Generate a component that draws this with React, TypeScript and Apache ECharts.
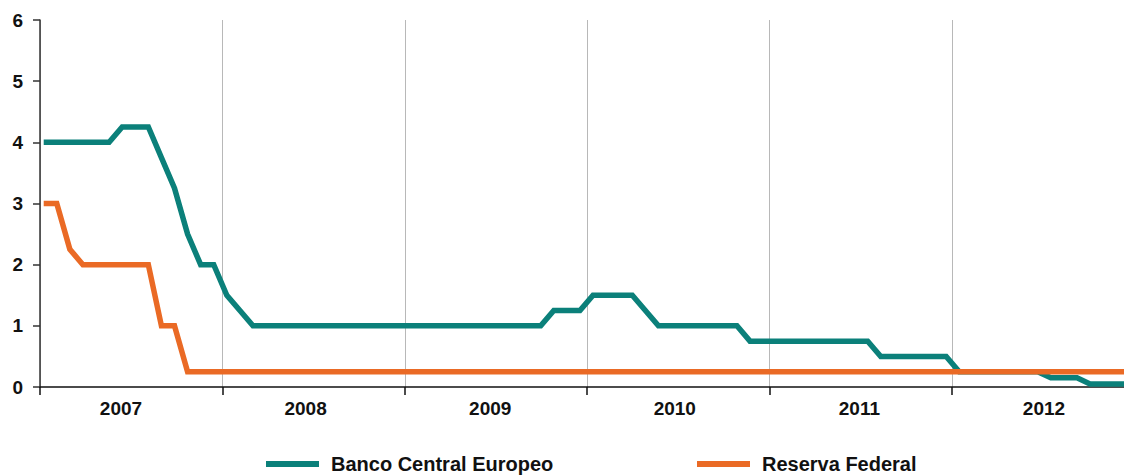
import React, { useEffect, useRef } from "react";
import * as echarts from "echarts";

// Year labels on the x axis
const years = ["2007", "2008", "2009", "2010", "2011", "2012"];

// Monthly categories for the data (84 months)
const startYear = 2008;
const startMonth = 1; // February (0-based)
const months: string[] = [];
for (let i = 0; i < 84; i++) {
  const m = (startMonth + i) % 12;
  const y = startYear + Math.floor((startMonth + i) / 12);
  months.push(`${y}-${String(m + 1).padStart(2, "0")}`);
}

const seriesNames = ["Banco Central Europeo", "Reserva Federal"];

// Banco Central Europeo (%)
const bce = [
  4, 4, 4, 4, 4, 4,
  4.25, 4.25, 4.25,
  3.75, 3.25, 2.5, 2, 2, 1.5, 1.25,
  1, 1, 1, 1, 1, 1, 1, 1, 1, 1, 1, 1, 1, 1, 1, 1, 1, 1, 1, 1, 1, 1, 1,
  1.25, 1.25, 1.25,
  1.5, 1.5, 1.5, 1.5,
  1.25,
  1, 1, 1, 1, 1, 1, 1,
  0.75, 0.75, 0.75, 0.75, 0.75, 0.75, 0.75, 0.75, 0.75, 0.75,
  0.5, 0.5, 0.5, 0.5, 0.5, 0.5,
  0.25, 0.25, 0.25, 0.25, 0.25, 0.25, 0.25,
  0.15, 0.15, 0.15,
  0.05, 0.05, 0.05, 0.05,
];

// Reserva Federal (%)
const fed = [
  3, 3,
  2.25,
  2, 2, 2, 2, 2, 2,
  1, 1,
  0.25, 0.25, 0.25, 0.25, 0.25, 0.25, 0.25, 0.25, 0.25, 0.25,
  0.25, 0.25, 0.25, 0.25, 0.25, 0.25, 0.25, 0.25, 0.25, 0.25,
  0.25, 0.25, 0.25, 0.25, 0.25, 0.25, 0.25, 0.25, 0.25, 0.25,
  0.25, 0.25, 0.25, 0.25, 0.25, 0.25, 0.25, 0.25, 0.25, 0.25,
  0.25, 0.25, 0.25, 0.25, 0.25, 0.25, 0.25, 0.25, 0.25, 0.25,
  0.25, 0.25, 0.25, 0.25, 0.25, 0.25, 0.25, 0.25, 0.25, 0.25,
  0.25, 0.25, 0.25, 0.25, 0.25, 0.25, 0.25, 0.25, 0.25, 0.25,
  0.25, 0.25, 0.25,
];

const TEAL = "#0b807a";
const ORANGE = "#ea6a25";
const FONT = "'Liberation Sans', Arial, Helvetica, sans-serif";

export default function App() {
  const ref = useRef<HTMLDivElement>(null);

  useEffect(() => {
    if (!ref.current) return;
    const chart = echarts.init(ref.current, null, { renderer: "svg" });
    const top = 20;
    const height = 367;
    const legendText = {
      fontSize: 20,
      fontWeight: "bold",
      color: "#111111",
      fontFamily: FONT,
      padding: [0, 0, 0, 7],
    };
    chart.setOption({
      animation: false,
      backgroundColor: "#ffffff",
      textStyle: { fontFamily: FONT },
      grid: [
        { left: 40, top, width: 1094.5, height },
        { left: 43.7, top, width: 1085.6, height },
        { left: 28.7, top, width: 1107.6, height },
      ],
      xAxis: [
        {
          gridIndex: 0,
          type: "category",
          data: years,
          boundaryGap: true,
          axisLine: { show: true, lineStyle: { color: "#111111", width: 1.5 } },
          axisTick: { show: true, length: 8, interval: 0, lineStyle: { color: "#111111", width: 1.5 } },
          axisLabel: { show: false },
          splitLine: { show: true, interval: 0, lineStyle: { color: "#b8b8b8", width: 1 } },
        },
        {
          gridIndex: 1,
          type: "category",
          data: months,
          boundaryGap: false,
          show: false,
        },
        {
          gridIndex: 2,
          type: "category",
          data: years,
          boundaryGap: true,
          axisLine: { show: false },
          axisTick: { show: false },
          splitLine: { show: false },
          axisLabel: {
            show: true,
            interval: 0,
            margin: 12,
            fontSize: 19,
            fontWeight: "bold",
            color: "#111111",
            fontFamily: FONT,
          },
        },
      ],
      yAxis: [
        {
          gridIndex: 0,
          type: "value",
          min: 0,
          max: 6,
          interval: 1,
          axisLine: { show: true, lineStyle: { color: "#333333", width: 1.5 } },
          axisTick: { show: true, length: 7, inside: false, lineStyle: { color: "#333333", width: 1.5 } },
          axisLabel: {
            margin: 17,
            fontSize: 19,
            fontWeight: "bold",
            color: "#111111",
            fontFamily: FONT,
          },
          splitLine: { show: false },
        },
        { gridIndex: 1, type: "value", min: 0, max: 6, show: false, splitLine: { show: false } },
        { gridIndex: 2, type: "value", min: 0, max: 6, show: false, splitLine: { show: false } },
      ],
      legend: [
        {
          data: [seriesNames[0]],
          left: 266,
          top: 454,
          padding: 0,
          icon: "rect",
          itemWidth: 53,
          itemHeight: 6,
          textStyle: legendText,
        },
        {
          data: [seriesNames[1]],
          left: 697,
          top: 454,
          padding: 0,
          icon: "rect",
          itemWidth: 53,
          itemHeight: 6,
          textStyle: legendText,
        },
      ],
      series: [
        {
          name: seriesNames[0],
          type: "line",
          xAxisIndex: 1,
          yAxisIndex: 1,
          data: bce,
          showSymbol: false,
          symbol: "none",
          color: TEAL,
          lineStyle: { color: TEAL, width: 5.5, join: "miter" },
          z: 3,
        },
        {
          name: seriesNames[1],
          type: "line",
          xAxisIndex: 1,
          yAxisIndex: 1,
          data: fed,
          showSymbol: false,
          symbol: "none",
          color: ORANGE,
          lineStyle: { color: ORANGE, width: 5.5, join: "miter" },
          z: 4,
        },
      ],
    });
    return () => chart.dispose();
  }, []);

  return (
    <div
      style={{
        position: "fixed",
        left: 0,
        top: 0,
        width: 1124,
        height: 475,
        overflow: "hidden",
        background: "#ffffff",
      }}
    >
      <div ref={ref} style={{ width: 1150, height: 475 }} />
    </div>
  );
}
